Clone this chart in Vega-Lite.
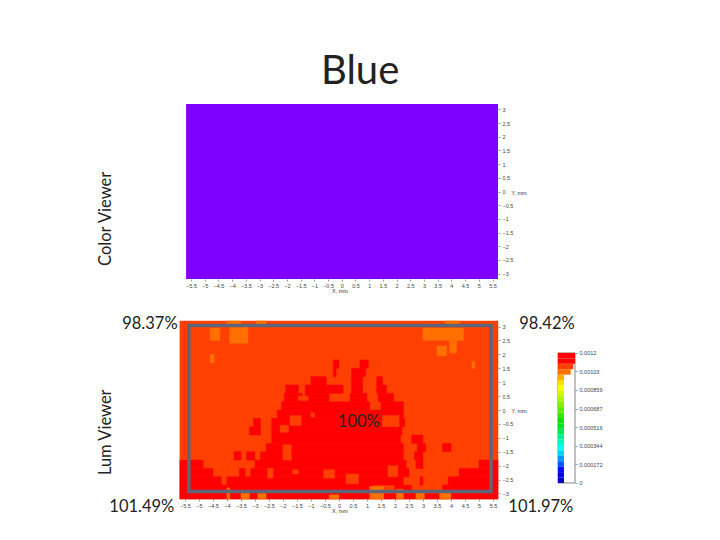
{"$schema":"https://vega.github.io/schema/vega-lite/v6.json","background":"white","padding":{"left":97,"top":52,"right":5,"bottom":5},
"title":{"text":"Blue","fontSize":40,"font":"Lato","fontWeight":"normal","color":"#222222","anchor":"start","dx":223,"offset":12},
"config":{"view":{"stroke":null},"axis":{"labelFontSize":5.5,"labelColor":"#444444","titleFontSize":5.5,"titleColor":"#333333","titleFontWeight":"normal","tickColor":"#555555","tickSize":2,"tickWidth":0.6,"domain":false,"grid":false,"labelPadding":2,"labelOverlap":false,"labelFlush":false,"tickCount":60}},
"datasets":{
"heat":[
{"x":-5.68,"x2":5.68,"y":-3.2,"y2":3.2,"v":0.00112},
{"x":-0.2,"x2":0,"y":1.5,"y2":1.8,"v":0.0012},{"x":0.75,"x2":1.05,"y":1.5,"y2":1.8,"v":0.0012},
{"x":0.45,"x2":0.95,"y":1.2,"y2":1.5,"v":0.0012},{"x":-0.2,"x2":-0.1,"y":1.2,"y2":1.5,"v":0.0012},
{"x":0.45,"x2":0.85,"y":0.9,"y2":1.2,"v":0.0012},{"x":-1,"x2":-0.45,"y":0.9,"y2":1.2,"v":0.0012},{"x":1.35,"x2":1.55,"y":0.9,"y2":1.2,"v":0.0012},
{"x":-1.9,"x2":-1.45,"y":0.6,"y2":0.9,"v":0.0012},{"x":-1.2,"x2":0.15,"y":0.6,"y2":0.9,"v":0.0012},{"x":0.45,"x2":0.85,"y":0.6,"y2":0.9,"v":0.0012},{"x":1.35,"x2":1.7,"y":0.6,"y2":0.9,"v":0.0012},
{"x":-1.95,"x2":-1.3,"y":0.3,"y2":0.6,"v":0.0012},{"x":-1.2,"x2":-0.35,"y":0.3,"y2":0.6,"v":0.0012},{"x":0.4,"x2":1,"y":0.3,"y2":0.6,"v":0.0012},{"x":1.4,"x2":1.95,"y":0.3,"y2":0.6,"v":0.0012},
{"x":-2.05,"x2":1.1,"y":0,"y2":0.3,"v":0.0012},{"x":1.5,"x2":2.3,"y":0,"y2":0.3,"v":0.0012},
{"x":-2.2,"x2":2.3,"y":-0.3,"y2":0,"v":0.0012},
{"x":-3.05,"x2":-2.8,"y":-0.6,"y2":-0.3,"v":0.0012},{"x":-2.4,"x2":2.35,"y":-0.6,"y2":-0.3,"v":0.0012},
{"x":-3.2,"x2":-2.8,"y":-0.9,"y2":-0.6,"v":0.0012},{"x":-2.4,"x2":2.25,"y":-0.9,"y2":-0.6,"v":0.0012},
{"x":-2.4,"x2":2.2,"y":-1.2,"y2":-0.9,"v":0.0012},{"x":2.6,"x2":3,"y":-1.2,"y2":-0.9,"v":0.0012},
{"x":-2.6,"x2":2.3,"y":-1.5,"y2":-1.2,"v":0.0012},{"x":2.8,"x2":3.1,"y":-1.5,"y2":-1.2,"v":0.0012},{"x":3.7,"x2":4,"y":-1.5,"y2":-1.2,"v":0.0012},
{"x":-3.75,"x2":-3.5,"y":-1.8,"y2":-1.5,"v":0.0012},{"x":-3.3,"x2":-3,"y":-1.8,"y2":-1.5,"v":0.0012},{"x":-2.8,"x2":2.3,"y":-1.8,"y2":-1.5,"v":0.0012},{"x":2.7,"x2":3,"y":-1.8,"y2":-1.5,"v":0.0012},
{"x":-5.68,"x2":-4.85,"y":-2.1,"y2":-1.8,"v":0.0012},{"x":-3,"x2":2.4,"y":-2.1,"y2":-1.8,"v":0.0012},{"x":2.75,"x2":3,"y":-2.1,"y2":-1.8,"v":0.0012},{"x":5,"x2":5.68,"y":-2.1,"y2":-1.8,"v":0.0012},
{"x":-5.68,"x2":-4.5,"y":-2.4,"y2":-2.1,"v":0.0012},{"x":-3.55,"x2":-3.35,"y":-2.4,"y2":-2.1,"v":0.0012},{"x":-3.15,"x2":2.5,"y":-2.4,"y2":-2.1,"v":0.0012},{"x":4.3,"x2":5.68,"y":-2.4,"y2":-2.1,"v":0.0012},
{"x":-5.68,"x2":-4.2,"y":-2.7,"y2":-2.4,"v":0.0012},{"x":-4,"x2":2.3,"y":-2.7,"y2":-2.4,"v":0.0012},{"x":2.9,"x2":3,"y":-2.7,"y2":-2.4,"v":0.0012},{"x":3.9,"x2":5.68,"y":-2.7,"y2":-2.4,"v":0.0012},
{"x":-5.68,"x2":1.2,"y":-3,"y2":-2.7,"v":0.0012},{"x":2,"x2":2.6,"y":-3,"y2":-2.7,"v":0.0012},{"x":3.7,"x2":5.68,"y":-3,"y2":-2.7,"v":0.0012},
{"x":-5.68,"x2":5.68,"y":-3.2,"y2":-3,"v":0.0012},
{"x":-1.75,"x2":-1.35,"y":-0.55,"y2":-0.2,"v":0.00112},{"x":-2.1,"x2":-1.8,"y":-0.8,"y2":-0.55,"v":0.00112},{"x":1.55,"x2":2.15,"y":-0.6,"y2":-0.2,"v":0.00112},{"x":-2,"x2":-1.7,"y":-1.8,"y2":-1.25,"v":0.00112},{"x":-0.55,"x2":-0.15,"y":-2.45,"y2":-2.15,"v":0.00112},{"x":0.25,"x2":0.7,"y":-2.65,"y2":-2.3,"v":0.00112},{"x":1.75,"x2":2.1,"y":-2.4,"y2":-2,"v":0.00112},{"x":-2.55,"x2":-2.35,"y":-2.45,"y2":-2.1,"v":0.00112},{"x":-1.65,"x2":-1.45,"y":-2.3,"y2":-2.15,"v":0.00112},{"x":-1.45,"x2":-1.1,"y":0.35,"y2":0.5,"v":0.00112},{"x":-1,"x2":-0.87,"y":-0.25,"y2":-0.1,"v":0.00112},
{"x":-4.6,"x2":-4.25,"y":2.5,"y2":2.95,"v":0.00105},{"x":-3.9,"x2":-3.25,"y":2.4,"y2":3,"v":0.00105},{"x":-4.6,"x2":-4.45,"y":1.7,"y2":2,"v":0.00105},{"x":-4,"x2":-3.5,"y":3,"y2":3.2,"v":0.00105},{"x":-2.95,"x2":-2.6,"y":3.05,"y2":3.2,"v":0.00105},{"x":3.8,"x2":4.3,"y":3,"y2":3.2,"v":0.00105},
{"x":3,"x2":4.45,"y":2.5,"y2":2.95,"v":0.00105},{"x":3.95,"x2":4.2,"y":2.05,"y2":2.5,"v":0.00105},{"x":3.5,"x2":3.85,"y":1.95,"y2":2.3,"v":0.00105},{"x":4.75,"x2":4.85,"y":1.5,"y2":1.75,"v":0.00105},
{"x":-4,"x2":-3.9,"y":-3.2,"y2":-2.8,"v":0.00105},{"x":-3.5,"x2":-3.2,"y":-3.2,"y2":-2.9,"v":0.00105},{"x":-2.9,"x2":-2.6,"y":-3.2,"y2":-3,"v":0.00105},{"x":-0.35,"x2":0,"y":-3.2,"y2":-3.05,"v":0.00105},{"x":1.1,"x2":1.6,"y":-3.2,"y2":-2.75,"v":0.00105},{"x":2.05,"x2":2.3,"y":-3.2,"y2":-2.85,"v":0.00105},{"x":2.75,"x2":3.05,"y":-3.2,"y2":-2.9,"v":0.00105},{"x":3.6,"x2":4,"y":-3.2,"y2":-2.9,"v":0.00105}
],
"bar":[
{"x":0,"x2":1,"y":0.00115,"y2":0.0012,"v":0.0012},{"x":0,"x2":1,"y":0.0011,"y2":0.00115,"v":0.00118},{"x":0,"x2":0.9,"y":0.00105,"y2":0.0011,"v":0.00112},{"x":0,"x2":0.75,"y":0.001,"y2":0.00105,"v":0.00105},
{"x":0,"x2":0.35,"y":0.00095,"y2":0.001,"v":0.00098},{"x":0,"x2":0.35,"y":0.0009,"y2":0.00095,"v":0.00092},{"x":0,"x2":0.35,"y":0.00085,"y2":0.0009,"v":0.00088},{"x":0,"x2":0.35,"y":0.0008,"y2":0.00085,"v":0.00082},{"x":0,"x2":0.35,"y":0.00075,"y2":0.0008,"v":0.00077},{"x":0,"x2":0.35,"y":0.0007,"y2":0.00075,"v":0.00072},{"x":0,"x2":0.35,"y":0.00065,"y2":0.0007,"v":0.00067},{"x":0,"x2":0.35,"y":0.0006,"y2":0.00065,"v":0.00062},{"x":0,"x2":0.35,"y":0.00055,"y2":0.0006,"v":0.00057},{"x":0,"x2":0.35,"y":0.0005,"y2":0.00055,"v":0.00052},{"x":0,"x2":0.35,"y":0.00045,"y2":0.0005,"v":0.00047},{"x":0,"x2":0.35,"y":0.0004,"y2":0.00045,"v":0.00042},{"x":0,"x2":0.35,"y":0.00035,"y2":0.0004,"v":0.00037},{"x":0,"x2":0.35,"y":0.0003,"y2":0.00035,"v":0.00032},{"x":0,"x2":0.35,"y":0.00025,"y2":0.0003,"v":0.00027},{"x":0,"x2":0.35,"y":0.0002,"y2":0.00025,"v":0.00022},{"x":0,"x2":0.35,"y":0.00015,"y2":0.0002,"v":0.00017},{"x":0,"x2":0.35,"y":0.0001,"y2":0.00015,"v":0.00012},{"x":0,"x2":0.35,"y":0.00005,"y2":0.0001,"v":0.00007},{"x":0,"x2":0.35,"y":0,"y2":0.00005,"v":0.00002}
]},
"vconcat":[
{"width":317,"height":175,"layer":[
{"data":{"values":[{"x":-5.68,"x2":5.7,"y":-3.2,"y2":3.2}]},"mark":{"type":"rect","color":"#7f00ff"},
"encoding":{"x":{"field":"x","type":"quantitative","scale":{"domain":[-5.865,5.7],"nice":false,"zero":false},"axis":{"title":"X, mm","values":[-5.5,-5,-4.5,-4,-3.5,-3,-2.5,-2,-1.5,-1,-0.5,0,0.5,1,1.5,2,2.5,3,3.5,4,4.5,5,5.5],"format":".1~f","titlePadding":0}},"x2":{"field":"x2"},
"y":{"field":"y","type":"quantitative","scale":{"domain":[-3.2,3.2],"nice":false,"zero":false},"axis":{"orient":"right","title":"Y, mm","titleAngle":0,"titleAlign":"left","titleBaseline":"middle","titleX":13,"titleY":88,"values":[-3,-2.5,-2,-1.5,-1,-0.5,0,0.5,1,1.5,2,2.5,3],"format":".1~f"}},"y2":{"field":"y2"}}},
{"data":{"values":[{"x":-8.59,"y":-1,"t":"Color Viewer"}]},"mark":{"type":"text","font":"Lato","fontSize":16.5,"angle":270,"color":"#222222","clip":false},
"encoding":{"x":{"field":"x","type":"quantitative"},"y":{"field":"y","type":"quantitative"},"text":{"field":"t"}}}
]},
{"hconcat":[
{"width":317,"height":178,"layer":[
{"data":{"name":"heat"},"mark":{"type":"rect","strokeWidth":0.5},
"encoding":{"x":{"field":"x","type":"quantitative","scale":{"domain":[-5.64,5.68],"nice":false,"zero":false},"axis":{"title":"X, mm","values":[-5.5,-5,-4.5,-4,-3.5,-3,-2.5,-2,-1.5,-1,-0.5,0,0.5,1,1.5,2,2.5,3,3.5,4,4.5,5,5.5],"format":".1~f","titlePadding":0}},"x2":{"field":"x2"},
"y":{"field":"y","type":"quantitative","scale":{"domain":[-3.2,3.2],"nice":false,"zero":false},"axis":{"orient":"right","title":"Y, mm","titleAngle":0,"titleAlign":"left","titleBaseline":"middle","titleX":13,"titleY":89,"values":[-3,-2.5,-2,-1.5,-1,-0.5,0,0.5,1,1.5,2,2.5,3],"format":".1~f"}},"y2":{"field":"y2"},
"color":{"field":"v","type":"quantitative","legend":null,"scale":{"interpolate":"rgb","domain":[0,0.00011,0.0002,0.00031,0.00055,0.00088,0.00105,0.00112,0.00118],"range":["#0000b0","#0000ff","#0080ff","#00ffff","#00e000","#ffff00","#ff7000","#ff4000","#ff0000"]}},
"stroke":{"field":"v","type":"quantitative","legend":null,"scale":{"interpolate":"rgb","domain":[0,0.00011,0.0002,0.00031,0.00055,0.00088,0.00105,0.00112,0.00118],"range":["#0000b0","#0000ff","#0080ff","#00ffff","#00e000","#ffff00","#ff7000","#ff4000","#ff0000"]}}}},
{"data":{"values":[{"x":-5.36,"x2":5.43,"y":-2.93,"y2":3.04}]},"mark":{"type":"rect","fillOpacity":0,"stroke":"#5f6578","strokeWidth":3.5},
"encoding":{"x":{"field":"x","type":"quantitative"},"x2":{"field":"x2"},"y":{"field":"y","type":"quantitative"},"y2":{"field":"y2"}}},
{"data":{"values":[{"x":-6.75,"y":3.11,"t":"98.37%"},{"x":7.43,"y":3.11,"t":"98.42%"},{"x":0.71,"y":-0.43,"t":"100%"},{"x":-7.04,"y":-3.5,"t":"101.49%"},{"x":7.21,"y":-3.5,"t":"101.97%"}]},"mark":{"type":"text","font":"Lato","fontSize":16.5,"color":"#222222","clip":false},
"encoding":{"x":{"field":"x","type":"quantitative"},"y":{"field":"y","type":"quantitative"},"text":{"field":"t"}}},
{"data":{"values":[{"x":-8.32,"y":-0.8,"t":"Lum Viewer"}]},"mark":{"type":"text","font":"Lato","fontSize":16.5,"angle":270,"color":"#222222","clip":false},
"encoding":{"x":{"field":"x","type":"quantitative"},"y":{"field":"y","type":"quantitative"},"text":{"field":"t"}}}
]},
{"width":17,"height":178,"layer":[
{"data":{"values":[{"x":0,"x2":1,"y":0,"y2":0.0012}]},"mark":{"type":"rect","fill":"white","stroke":"#333333","strokeWidth":0.6},
"encoding":{"x":{"field":"x","type":"quantitative","axis":null,"scale":{"domain":[0,1],"nice":false}},"x2":{"field":"x2"},"y":{"field":"y","type":"quantitative","scale":{"domain":[-0.000148,0.001495],"nice":false,"zero":false},"axis":{"orient":"right","title":null,"values":[0,0.000172,0.000344,0.000516,0.000687,0.000859,0.00103,0.0012],"format":".3~g"}},"y2":{"field":"y2"}}},
{"data":{"name":"bar"},"mark":{"type":"rect"},
"encoding":{"x":{"field":"x","type":"quantitative"},"x2":{"field":"x2"},"y":{"field":"y","type":"quantitative"},"y2":{"field":"y2"},
"color":{"field":"v","type":"quantitative","legend":null,"scale":{"interpolate":"rgb","domain":[0,0.00011,0.0002,0.00031,0.00055,0.00088,0.00105,0.00112,0.00118],"range":["#0000b0","#0000ff","#0080ff","#00ffff","#00e000","#ffff00","#ff7000","#ff4000","#ff0000"]}}}}
]}
],"spacing":60,"bounds":"flush"}
],"spacing":42,"bounds":"flush"}
